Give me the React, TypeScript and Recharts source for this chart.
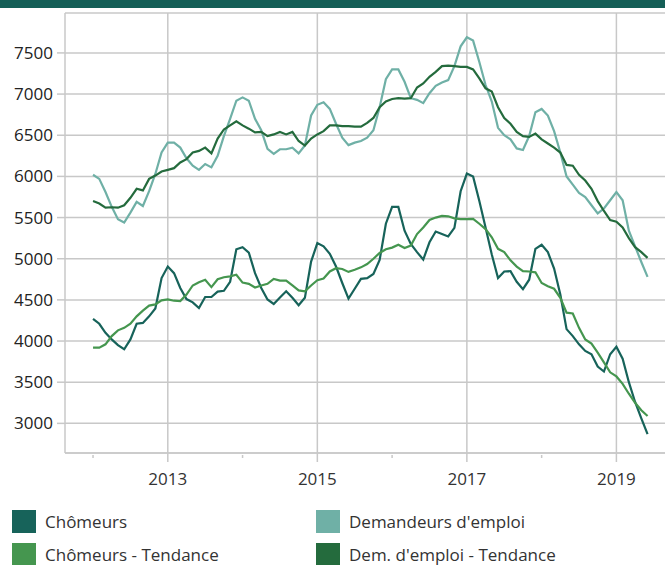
import { LineChart, Line, XAxis, YAxis, CartesianGrid, ReferenceLine } from "recharts";

// monthly values, Jan 2012 -> Jun 2019 (thousands)
const startYear = 2012;

const chomeurs = [
  4270, 4210, 4100, 4020, 3950, 3900, 4020, 4210, 4220, 4300, 4395, 4765,
  4905, 4825, 4645, 4510, 4470, 4400, 4535, 4535, 4600, 4610, 4720, 5115,
  5140, 5075, 4825, 4645, 4505, 4450, 4530, 4605, 4525, 4435, 4525, 4965,
  5190, 5150, 5060, 4905, 4705, 4515, 4635, 4755, 4765, 4815, 4985, 5425,
  5630, 5630, 5340, 5180, 5080, 4990, 5200, 5330, 5300, 5270, 5375, 5820,
  6035, 6000, 5700, 5380, 5050, 4765, 4845, 4850, 4720, 4630, 4745, 5120,
  5170, 5080, 4880, 4565, 4145, 4060, 3960, 3880, 3840, 3690, 3630, 3840,
  3930, 3785, 3500, 3260, 3060, 2870,
];

const demandeurs = [
  6020, 5970, 5810, 5630, 5480, 5440, 5560, 5690, 5640, 5820, 6030, 6290,
  6410, 6410, 6350, 6220, 6130, 6080, 6150, 6110, 6250, 6490, 6700, 6920,
  6960, 6920, 6700, 6560, 6335, 6275, 6330, 6330, 6350, 6280, 6375, 6740,
  6870, 6900, 6820, 6640, 6470, 6380, 6410, 6430, 6470, 6560, 6840, 7180,
  7300, 7300, 7150, 6950, 6930, 6890, 7010, 7100, 7140, 7170, 7340, 7580,
  7690, 7650, 7390, 7110, 6910, 6590, 6500, 6450, 6340, 6320, 6490, 6780,
  6820, 6740, 6550, 6290, 6000, 5900, 5800, 5750, 5650, 5550, 5610, 5710,
  5810, 5710, 5340, 5150, 4960, 4780,
];

const chomeursTendance = [
  3920, 3920, 3960, 4060, 4130, 4160, 4210, 4300, 4370, 4430, 4445, 4495,
  4505, 4490, 4485, 4565, 4675, 4715, 4745, 4655, 4750, 4775, 4785, 4805,
  4710, 4695, 4650, 4675, 4695, 4755, 4735, 4735, 4675, 4615, 4605, 4675,
  4740, 4760, 4845, 4885, 4875, 4840, 4865, 4895, 4935, 5000, 5070, 5115,
  5135, 5170, 5130, 5160, 5300, 5380, 5470, 5500, 5520, 5515, 5490, 5480,
  5480, 5485, 5425, 5360, 5260, 5120, 5080, 4980, 4905, 4850, 4845, 4835,
  4705, 4665, 4635, 4525, 4345, 4335, 4160, 4020, 3970, 3860, 3740, 3620,
  3570, 3480, 3360, 3250, 3160, 3090,
];

const demTendance = [
  5700, 5670, 5620, 5625, 5620, 5650, 5740, 5850, 5830, 5970, 6010, 6060,
  6080, 6100, 6170, 6210, 6290, 6310, 6350, 6280, 6460, 6570, 6620, 6670,
  6620, 6580, 6535, 6540, 6490, 6510, 6540, 6510, 6540, 6430, 6375, 6460,
  6510, 6550, 6620, 6620, 6610, 6610, 6605, 6605, 6650, 6710, 6840, 6910,
  6940, 6950, 6945, 6950, 7080, 7130, 7210, 7270, 7340, 7345, 7340, 7330,
  7330, 7300, 7190, 7070, 7030, 6840, 6710, 6640, 6540, 6490, 6480, 6520,
  6450, 6400, 6350, 6290, 6140, 6130, 6020, 5950, 5850, 5700, 5580, 5470,
  5450, 5380, 5250, 5140, 5080, 5010,
];

const yTicks = [3000, 3500, 4000, 4500, 5000, 5500, 6000, 6500, 7000, 7500];
const xTicks = [2012, 2013, 2014, 2015, 2016, 2017, 2018, 2019];
const gridYears = [2013, 2015, 2017, 2019];

const series = [
  { key: "cho", name: "Chômeurs", color: "#17635a" },
  { key: "dem", name: "Demandeurs d'emploi", color: "#6fb0a6" },
  { key: "choT", name: "Chômeurs - Tendance", color: "#45964f" },
  { key: "demT", name: "Dem. d'emploi - Tendance", color: "#246b3d" },
];

const data = chomeurs.map((v, i) => ({
  t: startYear + i / 12,
  cho: v,
  dem: demandeurs[i],
  choT: chomeursTendance[i],
  demT: demTendance[i],
}));

const GRID = "#c8c8c8";
const FONT = "'Open Sans', sans-serif";

const XTick = ({ x, y, payload }: any) => {
  const major = gridYears.includes(payload.value);
  return (
    <g>
      <line x1={x} x2={x} y1={major ? y : y + 2} y2={major ? y + 9 : y + 5} stroke={GRID} strokeWidth={1.5} />
      {major && (
        <text x={x} y={y + 25} textAnchor="middle" dominantBaseline="central" fill="#333" fontSize={17} fontFamily={FONT}>
          {payload.value}
        </text>
      )}
    </g>
  );
};

export default function App() {
  return (
    <div style={{ position: "absolute", left: 0, top: 0, width: 665, height: 565, background: "#fff", fontFamily: FONT, overflow: "hidden" }}>
      <LineChart width={665} height={500} data={data} margin={{ top: 13, right: 0, left: 0, bottom: 0 }}>
        <CartesianGrid vertical={false} stroke={GRID} strokeWidth={1.5} />
        {gridYears.map((yr) => (
          <ReferenceLine key={yr} x={yr} stroke={GRID} strokeWidth={1.5} />
        ))}
        <XAxis
          dataKey="t"
          type="number"
          domain={[2011.625, 2019.65]}
          ticks={xTicks}
          allowDataOverflow
          height={47}
          tickSize={0}
          tickMargin={0}
          tickLine={false}
          axisLine={{ stroke: GRID, strokeWidth: 1.5 }}
          tick={<XTick />}
        />
        <YAxis
          type="number"
          domain={[2640, 7985]}
          ticks={yTicks}
          allowDataOverflow
          width={65}
          tickSize={8}
          tickMargin={4}
          tickLine={{ stroke: GRID, strokeWidth: 1.5 }}
          axisLine={{ stroke: GRID, strokeWidth: 1.5 }}
          tick={{ fill: "#222", fontSize: 17, fontFamily: FONT }}
        />
        {series.map((s) => (
          <Line
            key={s.key}
            dataKey={s.key}
            name={s.name}
            stroke={s.color}
            strokeWidth={2.2}
            dot={false}
            type="linear"
            isAnimationActive={false}
          />
        ))}
      </LineChart>
      <div style={{ position: "absolute", left: 0, top: 0, width: 665, height: 8, background: "#155f57" }} />
      <div style={{ position: "absolute", left: 12, top: 510, width: 640, display: "grid", gridTemplateColumns: "304px 304px", rowGap: 10 }}>
        {series.map((s) => (
          <div key={s.key} style={{ display: "flex", alignItems: "center", height: 23 }}>
            <div style={{ width: 24, height: 23, background: s.color, marginRight: 9, flexShrink: 0 }} />
            <span style={{ fontSize: 17, color: "#333", lineHeight: "21px" }}>{s.name}</span>
          </div>
        ))}
      </div>
    </div>
  );
}
